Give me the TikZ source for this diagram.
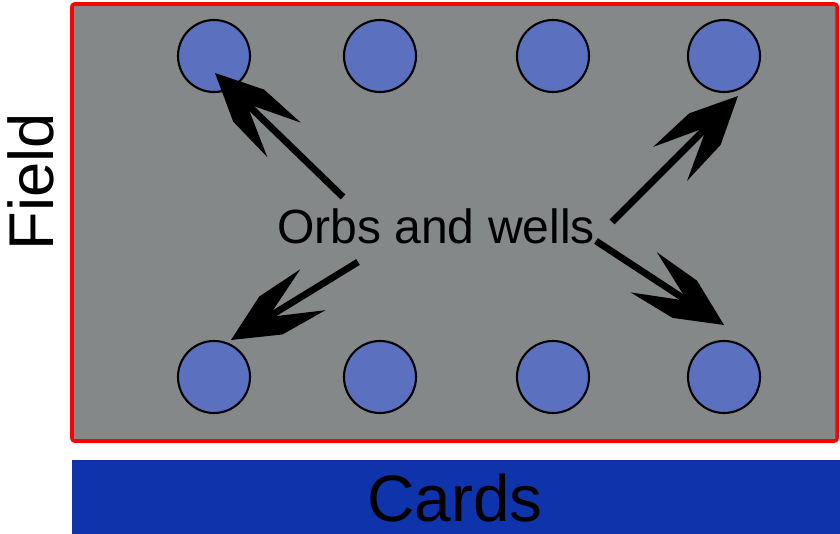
\documentclass[tikz,border=0pt]{standalone}
\usepackage{fontspec}
\setmainfont{Liberation Sans}
\usetikzlibrary{arrows.meta}
\definecolor{fieldgray}{HTML}{858889}
\definecolor{orbblue}{HTML}{5B71C0}
\definecolor{cardblue}{HTML}{0F33AB}
\pgfdeclarearrow{
  name=OrbBarb,
  setup code={
    \pgfarrowssettipend{0pt}
    \pgfarrowssetbackend{-82pt}
    \pgfarrowssetlineend{-40pt}
    \pgfarrowshullpoint{0pt}{0pt}
    \pgfarrowshullpoint{-82pt}{20.5pt}
    \pgfarrowshullpoint{-82pt}{-20.5pt}
  },
  drawing code={
    \pgfpathmoveto{\pgfqpoint{0pt}{0pt}}
    \pgfpathlineto{\pgfqpoint{-40pt}{19pt}}
    \pgfpathlineto{\pgfqpoint{-82pt}{20.5pt}}
    \pgfpathlineto{\pgfqpoint{-44pt}{3pt}}
    \pgfpathlineto{\pgfqpoint{-44pt}{-3pt}}
    \pgfpathlineto{\pgfqpoint{-82pt}{-20.5pt}}
    \pgfpathlineto{\pgfqpoint{-40pt}{-19pt}}
    \pgfpathclose
    \pgfusepathqfill
  }
}
\tikzset{
  orb/.style={circle, draw=black, line width=1.8, fill=orbblue, minimum size=72*0.03cm, inner sep=0pt},
  orbarrow/.style={line width=5.8, -OrbBarb, line cap=butt}
}
\begin{document}
\begin{tikzpicture}[x=0.03cm, y=-0.03cm, line join=round]
	\useasboundingbox (0,0) rectangle (840,534);
	\draw[red, line width=3, fill=fieldgray, rounded corners=2] (72,4) rectangle (837,441);
	\fill[cardblue] (72,460) rectangle (840,534);
	\node (cards) at (455,498) {\fontsize{56}{60}\selectfont Cards};
	\node[rotate=90] (field) at (31,182) {\fontsize{54}{58}\selectfont Field};
	\foreach \x [count=\i] in {214,380,553,724} {
		\node[orb] (top\i) at (\x,56) {};
		\node[orb] (bot\i) at (\x,377) {};
	}
	\node (lbl) at (436,226) {\fontsize{41}{46}\selectfont Orbs and wells};
	\coordinate (t1) at (343,197); \coordinate (h1) at (215,73);
	\coordinate (t2) at (612,222); \coordinate (h2) at (738,96);
	\coordinate (t3) at (358,262); \coordinate (h3) at (231,340);
	\coordinate (t4) at (596,241); \coordinate (h4) at (724,325);
	\foreach \i in {1,...,4}
		\draw[orbarrow] (t\i) -- (h\i);
\end{tikzpicture}
\end{document}
